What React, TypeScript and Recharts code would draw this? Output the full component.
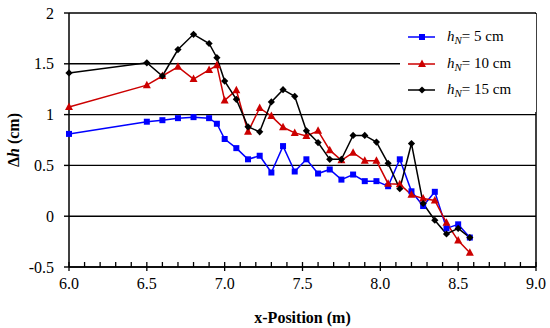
import React from 'react';
import { LineChart, Line, XAxis, YAxis, CartesianGrid, Legend, ReferenceLine } from 'recharts';

const FONT = '"Liberation Serif", serif';

// x-position of each measurement (m)
const positions = [
  6.0, 6.5, 6.6, 6.7, 6.8, 6.9, 6.95, 7.0, 7.075, 7.15, 7.225, 7.3, 7.375, 7.45, 7.525,
  7.6, 7.675, 7.75, 7.825, 7.9, 7.975, 8.05, 8.125, 8.2, 8.275, 8.35, 8.425, 8.5, 8.575,
];
// Δh (cm) for hN = 5 cm
const dh5 = [
  0.81, 0.93, 0.945, 0.965, 0.975, 0.965, 0.91, 0.76, 0.67, 0.56, 0.595, 0.43, 0.69, 0.44, 0.56,
  0.42, 0.46, 0.36, 0.41, 0.345, 0.345, 0.295, 0.56, 0.245, 0.1, 0.24, -0.12, -0.08, -0.21,
];
// Δh (cm) for hN = 10 cm
const dh10 = [
  1.075, 1.29, 1.38, 1.47, 1.35, 1.44, 1.485, 1.14, 1.24, 0.83, 1.065, 0.985, 0.875, 0.82, 0.79,
  0.84, 0.65, 0.55, 0.625, 0.545, 0.545, 0.32, 0.315, 0.21, 0.175, 0.155, -0.065, -0.24, -0.36,
];
// Δh (cm) for hN = 15 cm
const dh15 = [
  1.41, 1.51, 1.38, 1.64, 1.79, 1.7, 1.56, 1.33, 1.15, 0.88, 0.83, 1.125, 1.245, 1.18, 0.84,
  0.725, 0.56, 0.56, 0.795, 0.795, 0.73, 0.52, 0.27, 0.715, 0.125, -0.04, -0.175, -0.12, -0.21,
];

const xTicks = [
  6.0, 6.1, 6.2, 6.3, 6.4, 6.5, 6.6, 6.7, 6.8, 6.9, 7.0, 7.1, 7.2, 7.3, 7.4, 7.5,
  7.6, 7.7, 7.8, 7.9, 8.0, 8.1, 8.2, 8.3, 8.4, 8.5, 8.6, 8.7, 8.8, 8.9, 9.0,
];
const xMajorTicks = [6.0, 6.5, 7.0, 7.5, 8.0, 8.5, 9.0];
const yTicks = [-0.5, 0, 0.5, 1, 1.5, 2];

const seriesNames = ['5', '10', '15'];
const seriesKeys = ['h5', 'h10', 'h15'];
const seriesColors = ['#0000ff', '#cc0000', '#000000'];

const data = positions.map((x, i) => ({ x, h5: dh5[i], h10: dh10[i], h15: dh15[i] }));

const SquareDot = (p: any) => {
  if (p.cx == null || p.cy == null) return null;
  return <rect key={p.key} x={p.cx - 3} y={p.cy - 3} width={6} height={6} fill={seriesColors[0]} />;
};
const TriangleDot = (p: any) => {
  if (p.cx == null || p.cy == null) return null;
  const { cx, cy } = p;
  return <polygon key={p.key} points={`${cx},${cy - 4.5} ${cx + 4},${cy + 3} ${cx - 4},${cy + 3}`} fill={seriesColors[1]} />;
};
const DiamondDot = (p: any) => {
  if (p.cx == null || p.cy == null) return null;
  const { cx, cy } = p;
  return <polygon key={p.key} points={`${cx},${cy - 3.6} ${cx + 3.6},${cy} ${cx},${cy + 3.6} ${cx - 3.6},${cy}`} fill={seriesColors[2]} />;
};
const dotShapes = [SquareDot, TriangleDot, DiamondDot];

const XTick = (props: any) => {
  const { x, y, payload } = props;
  const v = payload.value as number;
  const major = xMajorTicks.some((m) => Math.abs(m - v) < 1e-6);
  return (
    <g>
      <line x1={x} x2={x} y1={y - 5} y2={major ? y + 4 : y} stroke="#000" strokeWidth={1.3} />
      {major && (
        <text x={x} y={y + 22} textAnchor="middle" style={{ fontFamily: FONT, fontSize: 16 }} fill="#000">
          {v.toFixed(1)}
        </text>
      )}
    </g>
  );
};

const YLabel = (props: any) => {
  const vb = props.viewBox || { x: 0, y: 13, width: 69, height: 254 };
  const cx = vb.x + 13;
  const cy = vb.y + vb.height / 2;
  return (
    <text
      transform={`translate(${cx},${cy}) rotate(-90)`}
      textAnchor="middle"
      dominantBaseline="central"
      style={{ fontFamily: FONT, fontSize: 16, fontWeight: 'bold' }}
      fill="#000"
    >
      Δ<tspan fontStyle="italic">h</tspan> (cm)
    </text>
  );
};

const XLabel = (props: any) => {
  const vb = props.viewBox || { x: 69, y: 267, width: 467, height: 61 };
  return (
    <text
      x={vb.x + vb.width / 2}
      y={vb.y + 56}
      textAnchor="middle"
      style={{ fontFamily: FONT, fontSize: 16, fontWeight: 'bold' }}
      fill="#000"
    >
      x-Position (m)
    </text>
  );
};

const LegendBox = () => (
  <div style={{ width: 136, height: 98, background: '#fff', fontFamily: FONT, fontSize: 15, paddingTop: 10, boxSizing: 'border-box' }}>
    {seriesNames.map((name, i) => {
      const Dot = dotShapes[i];
      return (
        <div key={name} style={{ display: 'flex', alignItems: 'center', height: 26.4, color: '#000' }}>
          <svg width={36} height={12} style={{ marginLeft: 8, flex: 'none' }}>
            <line x1={0} x2={27} y1={6} y2={6} stroke={seriesColors[i]} strokeWidth={1.5} />
            <Dot cx={14} cy={6} />
          </svg>
          <span style={{ marginLeft: 3, whiteSpace: 'nowrap' }}>
            <i>h</i>
            <sub style={{ fontSize: 11, verticalAlign: -3 }}>
              <i>N</i>
            </sub>
            = {name} cm
          </span>
        </div>
      );
    })}
  </div>
);

export default function App() {
  return (
    <div style={{ position: 'absolute', left: 0, top: 0, width: 550, height: 328, background: '#fff', fontFamily: FONT }}>
      <LineChart width={550} height={328} data={data} margin={{ top: 13, right: 14, bottom: 0, left: 0 }}>
        <CartesianGrid vertical={false} stroke="#000" strokeWidth={1.4} />
        <XAxis
          dataKey="x"
          type="number"
          domain={[6, 9]}
          ticks={xTicks}
          interval={0}
          height={61}
          tickSize={0}
          tickMargin={0}
          tickLine={false}
          axisLine={{ stroke: '#000', strokeWidth: 1.5 }}
          tick={<XTick />}
          label={{ content: <XLabel /> }}
        />
        <YAxis
          type="number"
          domain={[-0.5, 2]}
          ticks={yTicks}
          interval={0}
          width={69}
          tickSize={5}
          tickMargin={10}
          tickLine={{ stroke: '#000', strokeWidth: 1.4 }}
          axisLine={{ stroke: '#000', strokeWidth: 1.5 }}
          tick={{ fill: '#000', fontSize: 16, style: { fontFamily: FONT } }}
          label={{ content: <YLabel /> }}
        />
        <ReferenceLine x={9} stroke="#000" strokeWidth={1.5} />
        <Legend
          layout="vertical"
          align="center"
          verticalAlign="middle"
          content={<LegendBox />}
          wrapperStyle={{ left: 400, top: 14, width: 135, height: 98 }}
        />
        {seriesKeys.map((k, i) => (
          <Line
            key={k}
            dataKey={k}
            type="linear"
            stroke={seriesColors[i]}
            strokeWidth={1.5}
            dot={dotShapes[i]}
            activeDot={false}
            isAnimationActive={false}
          />
        ))}
      </LineChart>
    </div>
  );
}
